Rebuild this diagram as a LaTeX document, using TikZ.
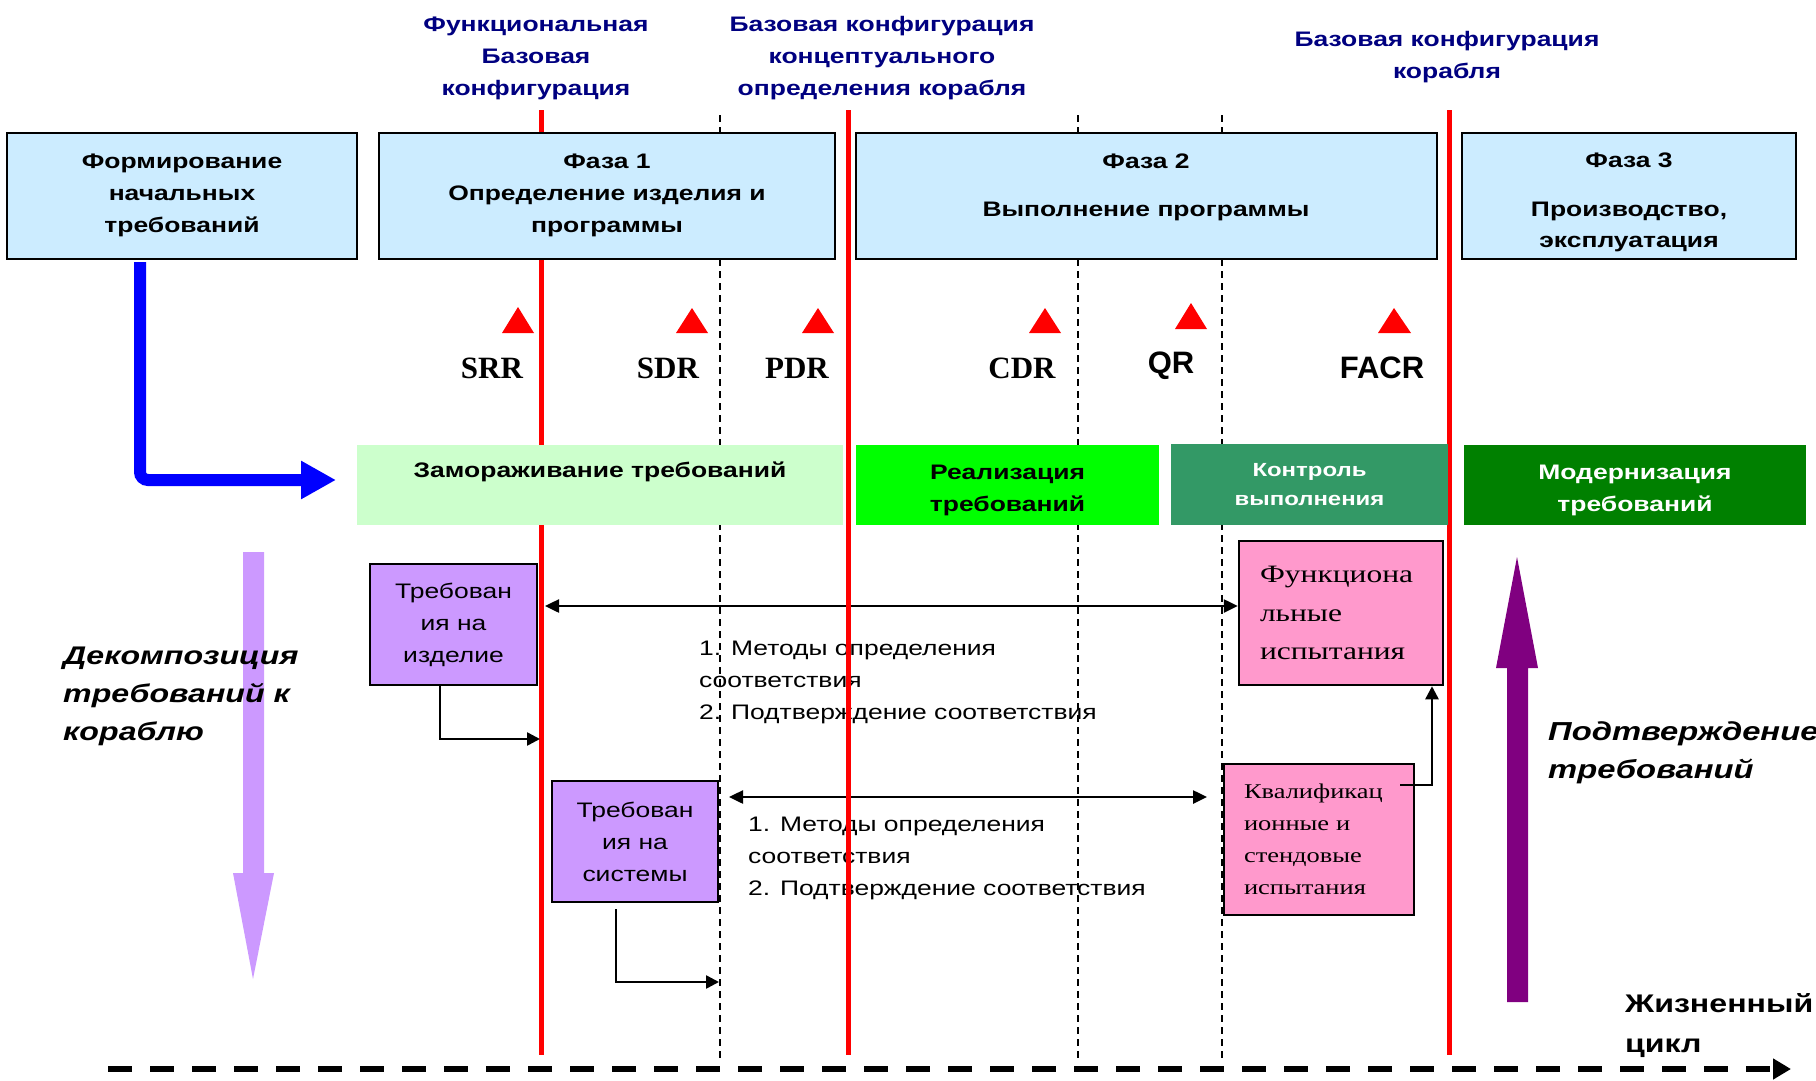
\documentclass[tikz,border=0pt]{standalone}
\usepackage{fontspec}
\setmainfont{Liberation Sans}[FakeStretch=1.26]
\newfontfamily\sansN{Liberation Sans}
\newfontfamily\serifS{Liberation Serif}[FakeStretch=1.26]
\newfontfamily\serifN{Liberation Serif}
\usetikzlibrary{arrows.meta}
\definecolor{phaseblue}{HTML}{CCECFF}
\definecolor{navytext}{HTML}{000080}
\definecolor{freezegreen}{HTML}{CCFFCC}
\definecolor{implgreen}{HTML}{00FF00}
\definecolor{ctrlteal}{HTML}{339966}
\definecolor{moddark}{HTML}{008000}
\definecolor{lavender}{HTML}{CC99FF}
\definecolor{testpink}{HTML}{FF99CC}
\definecolor{confpurple}{HTML}{800080}
\definecolor{flowblue}{HTML}{0000FF}
\newcommand\sz[2]{\fontsize{#1pt}{#2pt}\selectfont}

\begin{document}
\begin{tikzpicture}[x=1pt,y=-1pt,
  every node/.style={inner sep=0pt},
  phasebox/.style={draw=black,line width=2pt,fill=phaseblue},
  phasetext/.style={align=center,font={\sz{21}{32}\bfseries}},
  toplabel/.style={align=center,text=navytext,font={\sz{21}{32}\bfseries}},
  revtri/.style={fill=red},
  revserif/.style={font={\serifN\sz{31}{36}\bfseries}},
  revsans/.style={font={\sansN\sz{31}{36}\bfseries}},
  bandbox/.style={inner sep=0pt},
  bandtext/.style={align=center,font={\sz{21}{32}\bfseries}},
  reqbox/.style={draw=black,line width=2.5pt,fill=lavender,align=center,font={\sz{21}{32}}},
  testbox/.style={draw=black,line width=2.5pt,fill=testpink,align=left},
  methodtext/.style={align=left,anchor=west,font={\sz{21}{32}}},
  redline/.style={draw=red,line width=5pt},
  dashline/.style={draw=black,line width=1.5pt,dash pattern=on 7pt off 5pt},
  dblarrow/.style={line width=2.5pt,{Triangle[length=14pt,width=13pt]}-{Triangle[length=14pt,width=13pt]}},
  connarrow/.style={line width=2.5pt,-{Triangle[length=13pt,width=13pt]}},
  lifeline/.style={line width=6pt,dash pattern=on 24pt off 18pt,-{Triangle[length=18pt,width=20pt]}},
  sidetext/.style={align=left,anchor=west}
]
\useasboundingbox (0,0) rectangle (1816,1081);

% ---- background shapes: decomposition arrow and its caption
\fill[lavender] (243,552) -- (264,552) -- (264,873) -- (274,873) -- (253,979)
  -- (233,873) -- (243,873) -- cycle;
\node[sidetext,font={\sz{25.5}{38}\bfseries\itshape}] (decomp) at (63,696)
  {Декомпозиция\\требований к\\кораблю};

% ---- verification notes and double arrows
\node[methodtext] (meth1) at (699,682)
  {1. Методы определения\\соответствия\\2. Подтверждение соответствия};
\node[methodtext] (meth2) at (748,858)
  {1. Методы определения\\соответствия\\2. Подтверждение соответствия};

\node[testbox,minimum width=204pt,minimum height=144pt,text width=162pt,
  font={\serifS\sz{25}{38.5}}] (ftest) at (1341,613)
  {Функциона\\льные\\испытания};
\node[testbox,minimum width=190pt,minimum height=151pt,text width=150pt,
  font={\serifS\sz{21}{32}}] (qtest) at (1319,839.5)
  {Квалификац\\ионные и\\стендовые\\испытания};

\coordinate (a1l) at (545,606);
\draw[dblarrow] (a1l) -- (a1l -| ftest.west);
\coordinate (a2l) at (729,797);
\coordinate (a2r) at (1207,797);
\draw[dblarrow] (a2l) -- (a2r);

% ---- milestone lines
\coordinate (r1t) at (541,110);  \coordinate (r1b) at (541,1055);
\coordinate (r2t) at (848,110);  \coordinate (r2b) at (848,1055);
\coordinate (r3t) at (1449,110); \coordinate (r3b) at (1449,1055);
\coordinate (d1t) at (720,115);  \coordinate (d1b) at (720,1058);
\coordinate (d2t) at (1078,115); \coordinate (d2b) at (1078,1058);
\coordinate (d3t) at (1222,115); \coordinate (d3b) at (1222,1058);
\draw[dashline] (d1t) -- (d1b);
\draw[dashline] (d2t) -- (d2b);
\draw[dashline] (d3t) -- (d3b);
\draw[redline] (r1t) -- (r1b);
\draw[redline] (r2t) -- (r2b);
\draw[redline] (r3t) -- (r3b);

% ---- phase boxes
\node[phasebox,minimum width=350pt,minimum height=126pt] (ph0) at (182,196) {};
\node[phasebox,minimum width=456pt,minimum height=126pt] (ph1) at (607,196) {};
\node[phasebox,minimum width=581pt,minimum height=126pt] (ph2) at (1146.5,196) {};
\node[phasebox,minimum width=334pt,minimum height=126pt] (ph3) at (1629,196) {};
\node[phasetext] (ph0t) at (182,195) {Формирование\\начальных\\требований};
\node[phasetext] (ph1t) at (607,195) {Фаза 1\\Определение изделия и\\программы};
\node[phasetext] (ph2t) at (1146,187) {Фаза 2\\[16pt]Выполнение программы};
\node[phasetext,font={\sz{21}{31}\bfseries}] (ph3t) at (1629,202)
  {Фаза 3\\[18pt]Производство,\\эксплуатация};

% ---- baseline labels
\node[toplabel] (fbl) at (536,58) {Функциональная\\Базовая\\конфигурация};
\node[toplabel] (cbl) at (882,58) {Базовая конфигурация\\концептуального\\определения корабля};
\node[toplabel] (sbl) at (1447,57) {Базовая конфигурация\\корабля};

% ---- reviews
\fill[revtri] (502,333) -- (518,307) -- (534,333) -- cycle;
\fill[revtri] (676,333) -- (692,308) -- (708,333) -- cycle;
\fill[revtri] (802,333) -- (818,308) -- (834,333) -- cycle;
\fill[revtri] (1029,333) -- (1045,308) -- (1061,333) -- cycle;
\fill[revtri] (1175,329) -- (1191,303) -- (1207,329) -- cycle;
\fill[revtri] (1378,333) -- (1394,308) -- (1411,333) -- cycle;
\node[revserif] (srr) at (492,368) {SRR};
\node[revserif] (sdr) at (668,368) {SDR};
\node[revserif] (pdr) at (797,368) {PDR};
\node[revserif] (cdr) at (1022,368) {CDR};
\node[revsans] (qr) at (1171,366) {QR};
\node[revsans] (facr) at (1382,368) {FACR};

% ---- requirement activity bands
\node[bandbox,fill=freezegreen,minimum width=486pt,minimum height=80pt] (band1) at (600,485) {};
\node[bandtext] (band1t) at (600,472) {Замораживание требований};
\node[bandbox,fill=implgreen,minimum width=303pt,minimum height=80pt,bandtext] (band2)
  at (1007.5,485) {};
\node[bandtext] (band2t) at (1007.5,490) {Реализация\\требований};
\node[bandbox,fill=ctrlteal,minimum width=277pt,minimum height=81pt,bandtext,
  text=white,font={\sz{19}{29}\bfseries}] (band3) at (1309.5,484.5) {Контроль\\выполнения};
\node[bandbox,fill=moddark,minimum width=342pt,minimum height=80pt] (band4) at (1635,485) {};
\node[bandtext,text=white] (band4t) at (1635,490) {Модернизация\\требований};

% ---- flow from initial requirements into freezing
\coordinate (bfs) at (140,262);
\coordinate (bfe) at (336,480);
\draw[flowblue,line width=12pt,rounded corners=8pt,
  -{Triangle[length=35pt,width=36pt]}] (bfs) |- (bfe);

% ---- requirement boxes and links
\node[reqbox,minimum width=167pt,minimum height=121pt] (preq) at (453.5,624.5)
  {Требован\\ия на\\изделие};
\node[reqbox,minimum width=166pt,minimum height=121pt] (sreq) at (635,841.5)
  {Требован\\ия на\\системы};
\coordinate (c1s) at (440,685);
\coordinate (c1e) at (540,739);
\draw[connarrow] (c1s) |- (c1e);
\coordinate (c2s) at (616,909);
\coordinate (c2e) at (719,982);
\draw[connarrow] (c2s) |- (c2e);
\coordinate (c3s) at (1400,785);
\draw[connarrow] (c3s) -| (ftest.south -| 1432,0);

% ---- confirmation arrow and caption
\fill[confpurple] (1507,1002) -- (1528,1002) -- (1528,668) -- (1538,668) -- (1517,557)
  -- (1496,668) -- (1507,668) -- cycle;
\node[sidetext,font={\sz{26}{38}\bfseries\itshape}] (confirm) at (1548,753)
  {Подтверждение\\требований};

% ---- life cycle axis
\node[sidetext,font={\sz{25.5}{40}\bfseries}] (life) at (1625,1026) {Жизненный\\цикл};
\coordinate (t0) at (108,1069);
\coordinate (t1) at (1791,1069);
\draw[lifeline] (t0) -- (t1);
\end{tikzpicture}
\end{document}
